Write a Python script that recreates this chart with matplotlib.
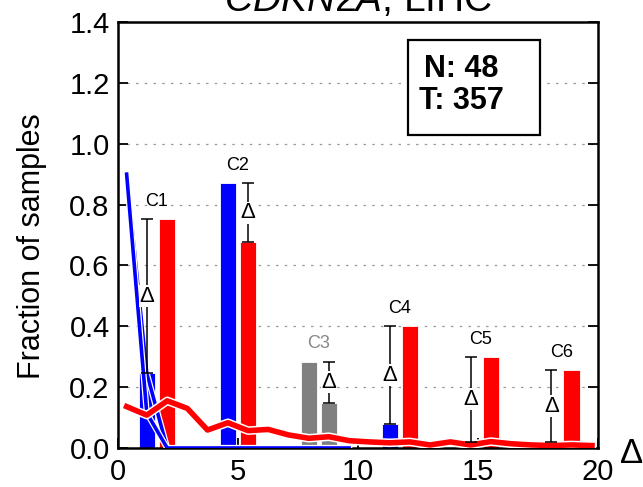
import matplotlib
matplotlib.use("Agg")
import matplotlib.pyplot as plt
import matplotlib.patheffects as pe
from matplotlib.patches import Rectangle

plt.rcParams['font.family'] = ['Liberation Sans', 'DejaVu Sans']
plt.rcParams['mathtext.fontset'] = 'custom'
plt.rcParams['mathtext.it'] = 'Liberation Sans:italic'
plt.rcParams['mathtext.rm'] = 'Liberation Sans'

# ---- data ----
clusters = ["C1", "C2", "C3", "C4", "C5", "C6"]
left_pos = [1.20, 4.58, 7.95, 11.32, 14.69, 18.06]
right_pos = [2.05, 5.42, 8.79, 12.16, 15.53, 18.90]
left_vals = [0.245, 0.870, 0.284, 0.078, 0.020, 0.020]
right_vals = [0.753, 0.677, 0.148, 0.400, 0.300, 0.255]
left_colors = ["#0000ff", "#0000ff", "#808080", "#0000ff", "#0000ff", "#0000ff"]
right_colors = ["#ff0000", "#ff0000", "#808080", "#ff0000", "#ff0000", "#ff0000"]
label_colors = ["black", "black", "#888888", "black", "black", "black"]

line_x = [0.36, 1.20, 2.05, 2.89, 3.73, 4.58, 5.42, 6.26, 7.10, 7.95, 8.79, 9.63,
          10.47, 11.32, 12.16, 13.00, 13.85, 14.69, 15.53, 16.37, 17.22, 18.06, 18.90, 19.75]
red_line = [0.136, 0.108, 0.155, 0.130, 0.059, 0.083, 0.057, 0.061, 0.043, 0.032, 0.037, 0.024,
            0.020, 0.017, 0.020, 0.010, 0.020, 0.010, 0.021, 0.014, 0.010, 0.008, 0.010, 0.008]
blue_line_a = [0.90, 0.115, 0.0, 0.0, 0.0, 0.0, 0.0, 0.0, 0.0, 0.0, 0.0, 0.0]
blue_line_b = [0.90, 0.245, 0.0, 0.0, 0.0, 0.0, 0.0, 0.0, 0.0, 0.0, 0.0, 0.0]

x_ticks = [0, 5, 10, 15, 20]
y_ticks = [0.0, 0.2, 0.4, 0.6, 0.8, 1.0, 1.2, 1.4]
y_ticklabels = ["0.0", "0.2", "0.4", "0.6", "0.8", "1.0", "1.2", "1.4"]
n_text = "N: 48"
t_text = "T: 357"

# ---- figure ----
fig = plt.figure(figsize=(6.43, 4.87), dpi=100)
ax = fig.add_axes([0.1835, 0.0801, 0.7465, 0.8747])
ax.set_xlim(0, 20)
ax.set_ylim(0, 1.4)

for yv in y_ticks[1:-1]:
    ax.axhline(yv, color="#999999", lw=0.9, dashes=(2, 5), zorder=0.5)

bw = 0.68
ax.bar(left_pos, left_vals, width=bw, color=left_colors, edgecolor="white", linewidth=0.6, zorder=2)
ax.bar(right_pos, right_vals, width=bw, color=right_colors, edgecolor="white", linewidth=0.6, zorder=2)

n_blue = len(blue_line_a)
white_edge = [pe.Stroke(linewidth=4.4, foreground="white"), pe.Normal()]
ax.plot(line_x[:n_blue], blue_line_b, color="#0000ff", lw=2.6, zorder=3, path_effects=white_edge)
ax.plot(line_x[:n_blue], blue_line_a, color="#0000ff", lw=2.6, zorder=3.1, path_effects=white_edge)
ax.plot(line_x, red_line, color="#ff0000", lw=4.0, zorder=3.2,
        path_effects=[pe.Stroke(linewidth=6.2, foreground="white"), pe.Normal()])

for i, name in enumerate(clusters):
    lv, rv = left_vals[i], right_vals[i]
    ex = left_pos[i] if lv < rv else right_pos[i]
    lo, hi = min(lv, rv), max(lv, rv)
    mid = (lo + hi) / 2
    ax.errorbar([ex], [mid], yerr=[[mid - lo], [hi - mid]], fmt="none", ecolor="black",
                elinewidth=1.1, capsize=4, capthick=1.1, zorder=4)
    ax.text(ex, mid, "Δ", fontsize=16, ha="center", va="center", zorder=5,
            bbox=dict(facecolor="white", edgecolor="none", pad=0.3))
    cx = (left_pos[i] + right_pos[i]) / 2
    ax.text(cx, hi + 0.058, name, fontsize=13, ha="center", va="center",
            color=label_colors[i], zorder=5)

# N/T box
ax.add_patch(Rectangle((12.08, 1.029), 5.5, 0.312, facecolor="white", edgecolor="black",
                       linewidth=1.6, zorder=6))
ax.text(14.3, 1.245, n_text, fontsize=22, fontweight="bold", ha="center", va="center", zorder=7)
ax.text(14.3, 1.140, t_text, fontsize=22, fontweight="bold", ha="center", va="center", zorder=7)

ax.set_xticks(x_ticks)
ax.set_xticklabels([str(v) for v in x_ticks])
ax.set_yticks(y_ticks)
ax.set_yticklabels(y_ticklabels)
ax.tick_params(axis="y", direction="in", left=True, right=True, length=7, width=1.3,
               labelsize=21, pad=6)
ax.tick_params(axis="x", direction="in", bottom=True, top=False, length=7, width=1.3,
               labelsize=21, pad=7)
for s in ax.spines.values():
    s.set_linewidth(1.8)

ax.set_title(r"$\mathit{CDKN2A}$, LIHC", fontsize=28, pad=8)
fig.text(0.05, 0.495, "Fraction of samples", rotation=90, fontsize=22, ha="center", va="center")
fig.text(0.964, 0.049, "Δ", fontsize=25, ha="left", va="baseline")

fig.savefig("out.png", dpi=100)
